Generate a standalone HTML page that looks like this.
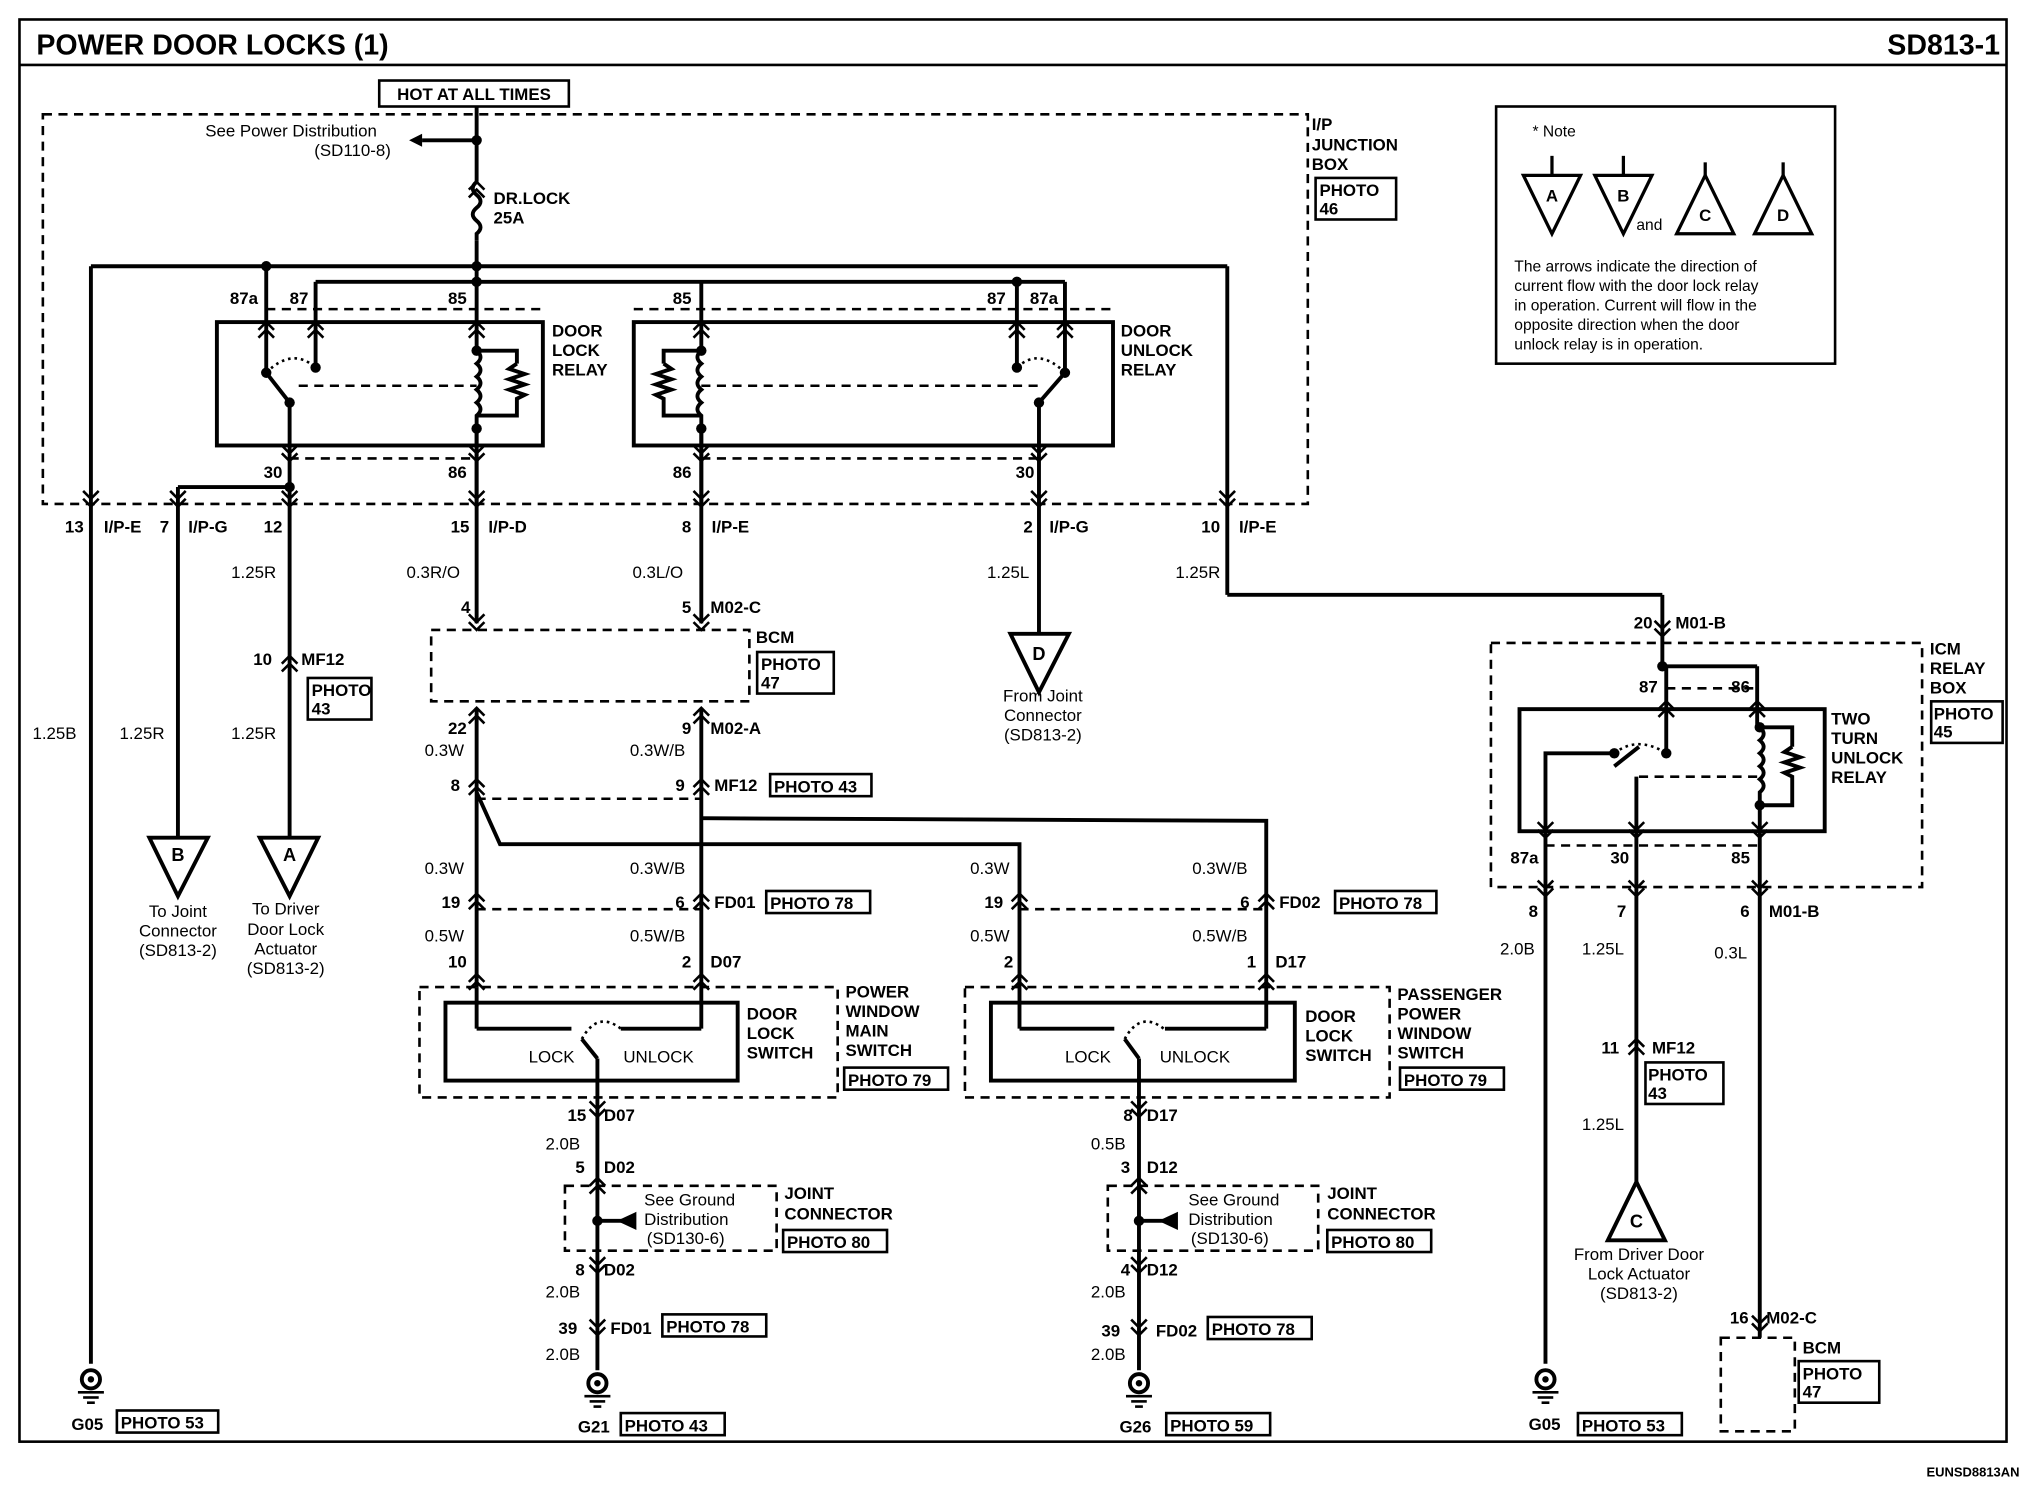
<!DOCTYPE html>
<html><head><style>
html,body{margin:0;padding:0;background:#fff;}
svg{display:block}
text{font-family:"Liberation Sans",Arial,sans-serif;font-weight:bold;fill:#000;}
</style></head><body>
<svg width="2026" height="1504" viewBox="0 0 1560 1158" preserveAspectRatio="none" xmlns="http://www.w3.org/2000/svg">
<defs>
<g id="cu"><polyline points="-6,6 0,0 6,6" fill="none" stroke="#000" stroke-width="2"/><polyline points="-6,12 0,6 6,12" fill="none" stroke="#000" stroke-width="2"/></g>
<g id="cd"><polyline points="-6,-6 0,0 6,-6" fill="none" stroke="#000" stroke-width="2"/><polyline points="-6,-12 0,-6 6,-12" fill="none" stroke="#000" stroke-width="2"/></g>
<g id="gnd"><circle cx="0" cy="0" r="7" fill="none" stroke="#000" stroke-width="3"/><circle cx="0" cy="0" r="2.5" fill="#000"/><line x1="-10" y1="10" x2="10" y2="10" stroke="#000" stroke-width="2"/><line x1="-6" y1="14" x2="6" y2="14" stroke="#000" stroke-width="2"/><line x1="-3" y1="18" x2="3" y2="18" stroke="#000" stroke-width="2"/></g>
</defs>
<rect width="1560" height="1158" fill="#fff"/>
<g fill="none" stroke="#000" stroke-width="2">
<rect x="15" y="15" width="1530" height="1095"/>
<line x1="15" y1="50" x2="1545" y2="50"/>
</g>
<text x="28" y="42" font-size="22">POWER DOOR LOCKS (1)</text>
<text x="1540" y="42" font-size="22" text-anchor="end">SD813-1</text>
<text x="1555" y="1137" font-size="10" text-anchor="end">EUNSD8813AN</text>

<g fill="none" stroke="#000" stroke-width="2" stroke-dasharray="7,5">
<rect x="33" y="88" width="974" height="300"/>
<rect x="332" y="485" width="245" height="55"/>
<rect x="323" y="760" width="322" height="85"/>
<rect x="743" y="760" width="327" height="85"/>
<rect x="435" y="913" width="163" height="50"/>
<rect x="853" y="913" width="162" height="50"/>
<rect x="1148" y="495" width="332" height="188"/>
<rect x="1325" y="1030" width="57" height="72"/>
<line x1="205" y1="238" x2="418" y2="238"/><line x1="488" y1="238" x2="857" y2="238"/>
<line x1="223" y1="353" x2="367" y2="353"/><line x1="540" y1="353" x2="800" y2="353"/>
<line x1="367" y1="615" x2="540" y2="615"/>
<line x1="367" y1="700" x2="540" y2="700"/><line x1="785" y1="700" x2="975" y2="700"/>
<line x1="1190" y1="651" x2="1355" y2="651"/>
<line x1="1283" y1="530" x2="1353" y2="530"/>
<line x1="230" y1="297" x2="367" y2="297"/><line x1="540" y1="297" x2="800" y2="297"/>
<line x1="1262" y1="598" x2="1355" y2="598"/>
</g>

<rect x="292" y="62" width="146" height="20" fill="none" stroke="#000" stroke-width="2"/>
<text x="365" y="77" font-size="13" text-anchor="middle">HOT AT ALL TIMES</text>

<g fill="none" stroke="#000" stroke-width="3">
<line x1="367" y1="82" x2="367" y2="140"/>
<path d="M367,140 q-6,5 0,10 q6,5 0,10 q-6,5 0,10 q6,5 0,10 l0,5"/>
<line x1="367" y1="185" x2="367" y2="248"/>
<line x1="367" y1="108" x2="325" y2="108"/>
<line x1="70" y1="205" x2="945" y2="205"/>
<line x1="243" y1="217" x2="820" y2="217"/>
<line x1="70" y1="205" x2="70" y2="1050"/>
<line x1="205" y1="205" x2="205" y2="248"/>
<line x1="243" y1="217" x2="243" y2="248"/>
<line x1="540" y1="217" x2="540" y2="248"/>
<line x1="783" y1="217" x2="783" y2="248"/>
<line x1="820" y1="217" x2="820" y2="248"/>
<line x1="945" y1="205" x2="945" y2="458"/>
<line x1="945" y1="458" x2="1280" y2="458"/>
<line x1="1280" y1="458" x2="1280" y2="513"/>
<rect x="167" y="248" width="251" height="95"/>
<rect x="488" y="248" width="369" height="95"/>
<rect x="1170" y="546" width="235" height="94"/>
<rect x="343" y="772" width="225" height="60"/>
<rect x="763" y="772" width="234" height="60"/>
<line x1="205" y1="248" x2="205" y2="287"/><line x1="243" y1="248" x2="243" y2="283"/>
<line x1="205" y1="287" x2="223" y2="310"/><line x1="223" y1="310" x2="223" y2="390"/>
<line x1="367" y1="248" x2="367" y2="270"/>
<path d="M367,270 q6,5 0,10 q6,5 0,10 q6,5 0,10 q6,5 0,10 q6,5 0,10 l0,10 l0,60"/>
<polyline points="367,270 398,270 398,280" /><path d="M398,280 l-6,4 l12,4 l-12,4 l12,4 l-12,4 l12,4 l-6,3 l0,13 l-31,0"/>
<line x1="540" y1="248" x2="540" y2="270"/>
<path d="M540,270 q-6,5 0,10 q-6,5 0,10 q-6,5 0,10 q-6,5 0,10 q-6,5 0,10 l0,10 l0,60"/>
<polyline points="540,270 511,270 511,280"/><path d="M511,280 l6,4 l-12,4 l12,4 l-12,4 l12,4 l-12,4 l6,3 l0,13 l29,0"/>
<line x1="820" y1="248" x2="820" y2="287"/><line x1="783" y1="248" x2="783" y2="283"/>
<line x1="820" y1="287" x2="800" y2="310"/><line x1="800" y1="310" x2="800" y2="488"/>
<line x1="367" y1="330" x2="367" y2="480"/>
<line x1="540" y1="330" x2="540" y2="480"/>
<line x1="223" y1="375" x2="137" y2="375"/><line x1="137" y1="375" x2="137" y2="645"/>
<line x1="223" y1="390" x2="223" y2="645"/>
<line x1="367" y1="545" x2="367" y2="760"/>
<line x1="540" y1="545" x2="540" y2="760"/>
<polyline points="367,610 385,650 785,650 785,760"/>
<polyline points="540,630 975,632 975,760"/>
<line x1="367" y1="760" x2="367" y2="792"/><line x1="367" y1="792" x2="440" y2="792"/>
<line x1="540" y1="760" x2="540" y2="792"/><line x1="540" y1="792" x2="478" y2="792"/>
<line x1="785" y1="760" x2="785" y2="792"/><line x1="785" y1="792" x2="858" y2="792"/>
<line x1="975" y1="760" x2="975" y2="792"/><line x1="975" y1="792" x2="897" y2="792"/>
<line x1="448" y1="800" x2="460" y2="815"/><line x1="460" y1="815" x2="460" y2="1055"/>
<line x1="866" y1="800" x2="877" y2="815"/><line x1="877" y1="815" x2="877" y2="1055"/>
<line x1="460" y1="940" x2="480" y2="940"/><line x1="877" y1="940" x2="897" y2="940"/>
<line x1="1283" y1="513" x2="1353" y2="513"/>
<line x1="1283" y1="513" x2="1283" y2="580"/>
<line x1="1353" y1="513" x2="1353" y2="560"/>
<path d="M1355,560 q6,5 0,10 q6,5 0,10 q6,5 0,10 q6,5 0,10 q6,5 0,10 l0,10 l0,410"/>
<polyline points="1355,560 1380,560 1380,575"/><path d="M1380,575 l-6,4 l12,4 l-12,4 l12,4 l-12,4 l6,3 l0,22 l-25,0"/>
<line x1="1262" y1="575" x2="1243" y2="590"/>
<polyline points="1243,580 1190,580 1190,1050"/>
<line x1="1260" y1="598" x2="1260" y2="910"/>
</g>
<g fill="none" stroke="#000" stroke-width="2" stroke-dasharray="2,3">
<path d="M205,287 q20,-20 38,-4"/><path d="M820,287 q-20,-20 -37,-4"/>
<path d="M448,800 q12,-22 30,-8"/><path d="M866,800 q12,-22 30,-8"/>
<path d="M1243,580 q18,-14 40,0"/>
</g>
<g fill="#000">
<circle cx="367" cy="108" r="4"/><circle cx="205" cy="205" r="4"/><circle cx="367" cy="205" r="4"/><circle cx="367" cy="217" r="4"/><circle cx="783" cy="217" r="4"/>
<circle cx="205" cy="287" r="4"/><circle cx="243" cy="283" r="4"/><circle cx="223" cy="310" r="4"/><circle cx="367" cy="270" r="4"/><circle cx="367" cy="330" r="4"/>
<circle cx="540" cy="270" r="4"/><circle cx="540" cy="330" r="4"/><circle cx="820" cy="287" r="4"/><circle cx="783" cy="283" r="4"/><circle cx="800" cy="310" r="4"/>
<circle cx="223" cy="375" r="4"/><circle cx="460" cy="940" r="4"/><circle cx="877" cy="940" r="4"/><circle cx="1280" cy="513" r="4"/><circle cx="1355" cy="560" r="4"/><circle cx="1355" cy="620" r="4"/><circle cx="1243" cy="580" r="4"/><circle cx="1283" cy="580" r="4"/>
<polygon points="325,103 315,108 325,113"/>
<polygon points="490,933 475,940 490,947"/><polygon points="907,933 892,940 907,947"/>
</g>
<use href="#cu" x="367" y="140"/>
<use href="#cu" x="205" y="248"/><use href="#cu" x="243" y="248"/><use href="#cu" x="367" y="248"/><use href="#cu" x="540" y="248"/><use href="#cu" x="783" y="248"/><use href="#cu" x="820" y="248"/>
<use href="#cd" x="223" y="355"/><use href="#cd" x="367" y="355"/><use href="#cd" x="540" y="355"/><use href="#cd" x="800" y="355"/>
<use href="#cd" x="70" y="390"/><use href="#cd" x="137" y="390"/><use href="#cd" x="223" y="390"/><use href="#cd" x="367" y="390"/><use href="#cd" x="540" y="390"/><use href="#cd" x="800" y="390"/><use href="#cd" x="945" y="390"/>
<use href="#cu" x="223" y="505"/><use href="#cd" x="367" y="485"/><use href="#cd" x="540" y="485"/>
<use href="#cu" x="367" y="545"/><use href="#cu" x="540" y="545"/><use href="#cu" x="367" y="600"/><use href="#cu" x="540" y="600"/>
<use href="#cu" x="367" y="688"/><use href="#cu" x="540" y="688"/><use href="#cu" x="785" y="688"/><use href="#cu" x="975" y="688"/>
<use href="#cu" x="367" y="750"/><use href="#cu" x="540" y="750"/><use href="#cu" x="785" y="750"/><use href="#cu" x="975" y="750"/>
<use href="#cd" x="460" y="860"/><use href="#cu" x="460" y="907"/><use href="#cd" x="460" y="980"/><use href="#cd" x="460" y="1028"/>
<use href="#cd" x="877" y="860"/><use href="#cu" x="877" y="907"/><use href="#cd" x="877" y="980"/><use href="#cd" x="877" y="1028"/>
<use href="#cd" x="1280" y="490"/><use href="#cu" x="1283" y="540"/><use href="#cu" x="1353" y="540"/>
<use href="#cd" x="1190" y="645"/><use href="#cd" x="1260" y="645"/><use href="#cd" x="1355" y="645"/>
<use href="#cd" x="1190" y="690"/><use href="#cd" x="1260" y="690"/><use href="#cd" x="1355" y="690"/><use href="#cu" x="1260" y="800"/><use href="#cd" x="1355" y="1025"/>
<use href="#gnd" x="70" y="1062"/><use href="#gnd" x="460" y="1065"/><use href="#gnd" x="877" y="1065"/><use href="#gnd" x="1190" y="1062"/>
<g fill="#fff" stroke="#000" stroke-width="3">
<polygon points="115,645 160,645 137,690"/><polygon points="200,645 245,645 223,690"/>
<polygon points="778,488 823,488 800,533"/>
<polygon points="1260,910 1282,955 1238,955"/>
</g>
<g font-size="14"><text x="137" y="663" text-anchor="middle">B</text><text x="223" y="663" text-anchor="middle">A</text><text x="800" y="508" text-anchor="middle">D</text><text x="1260" y="945" text-anchor="middle">C</text></g>

<rect x="1152" y="82" width="261" height="198" fill="none" stroke="#000" stroke-width="2"/>
<g fill="#fff" stroke="#000" stroke-width="2.5">
<line x1="1195" y1="120" x2="1195" y2="135"/><polygon points="1173,135 1217,135 1195,180"/>
<line x1="1250" y1="120" x2="1250" y2="135"/><polygon points="1228,135 1272,135 1250,180"/>
<line x1="1313" y1="125" x2="1313" y2="135"/><polygon points="1313,135 1335,180 1291,180"/>
<line x1="1373" y1="125" x2="1373" y2="135"/><polygon points="1373,135 1395,180 1351,180"/>
</g>
<g font-size="13"><text x="1195" y="155" text-anchor="middle">A</text><text x="1250" y="155" text-anchor="middle">B</text><text x="1313" y="170" text-anchor="middle">C</text><text x="1373" y="170" text-anchor="middle">D</text></g>
<g font-size="12">
<text x="1180" y="105" style="font-weight:normal">* Note</text>
<text x="1260" y="177" style="font-weight:normal">and</text>
<text x="1166" y="209" style="font-weight:normal">The arrows indicate the direction of</text>
<text x="1166" y="224" style="font-weight:normal">current flow with the door lock relay</text>
<text x="1166" y="239" style="font-weight:normal">in operation. Current will flow in the</text>
<text x="1166" y="254" style="font-weight:normal">opposite direction when the door</text>
<text x="1166" y="269" style="font-weight:normal">unlock relay is in operation.</text>
</g>

<g fill="none" stroke="#000" stroke-width="2">
<rect x="1013" y="137" width="62" height="32"/><rect x="237" y="522" width="49" height="32"/><rect x="583" y="502" width="59" height="32"/>
<rect x="593" y="596" width="78" height="17"/><rect x="590" y="686" width="80" height="17"/><rect x="1028" y="686" width="78" height="17"/>
<rect x="650" y="822" width="80" height="17"/><rect x="1078" y="822" width="80" height="17"/>
<rect x="603" y="947" width="80" height="17"/><rect x="1022" y="947" width="80" height="17"/>
<rect x="510" y="1012" width="80" height="17"/><rect x="930" y="1014" width="80" height="17"/>
<rect x="90" y="1086" width="78" height="17"/><rect x="478" y="1088" width="80" height="17"/><rect x="898" y="1088" width="80" height="17"/><rect x="1215" y="1088" width="80" height="17"/>
<rect x="1487" y="540" width="55" height="32"/><rect x="1267" y="818" width="60" height="32"/><rect x="1385" y="1048" width="62" height="32"/>
</g>
<g font-size="13">
<text x="1016" y="151">PHOTO</text><text x="1016" y="165">46</text>
<text x="240" y="536">PHOTO</text><text x="240" y="550">43</text>
<text x="586" y="516">PHOTO</text><text x="586" y="530">47</text>
<text x="596" y="610">PHOTO 43</text><text x="593" y="700">PHOTO 78</text><text x="1031" y="700">PHOTO 78</text>
<text x="653" y="836">PHOTO 79</text><text x="1081" y="836">PHOTO 79</text>
<text x="606" y="961">PHOTO 80</text><text x="1025" y="961">PHOTO 80</text>
<text x="513" y="1026">PHOTO 78</text><text x="933" y="1028">PHOTO 78</text>
<text x="93" y="1100">PHOTO 53</text><text x="481" y="1102">PHOTO 43</text><text x="901" y="1102">PHOTO 59</text><text x="1218" y="1102">PHOTO 53</text>
<text x="1489" y="554">PHOTO</text><text x="1489" y="568">45</text>
<text x="1269" y="832">PHOTO</text><text x="1269" y="846">43</text>
<text x="1388" y="1062">PHOTO</text><text x="1388" y="1076">47</text>
<text x="1010" y="100">I/P</text><text x="1010" y="116">JUNCTION</text><text x="1010" y="131">BOX</text>
<text x="425" y="259">DOOR</text><text x="425" y="274">LOCK</text><text x="425" y="289">RELAY</text>
<text x="863" y="259">DOOR</text><text x="863" y="274">UNLOCK</text><text x="863" y="289">RELAY</text>
<text x="380" y="157">DR.LOCK</text><text x="380" y="172">25A</text>
<text x="582" y="495">BCM</text>
<text x="1486" y="504">ICM</text><text x="1486" y="519">RELAY</text><text x="1486" y="534">BOX</text>
<text x="1410" y="558">TWO</text><text x="1410" y="573">TURN</text><text x="1410" y="588">UNLOCK</text><text x="1410" y="603">RELAY</text>
<text x="575" y="785">DOOR</text><text x="575" y="800">LOCK</text><text x="575" y="815">SWITCH</text>
<text x="651" y="768">POWER</text><text x="651" y="783">WINDOW</text><text x="651" y="798">MAIN</text><text x="651" y="813">SWITCH</text>
<text x="1005" y="787">DOOR</text><text x="1005" y="802">LOCK</text><text x="1005" y="817">SWITCH</text>
<text x="1076" y="770">PASSENGER</text><text x="1076" y="785">POWER</text><text x="1076" y="800">WINDOW</text><text x="1076" y="815">SWITCH</text>
<text x="604" y="923">JOINT</text><text x="604" y="939">CONNECTOR</text><text x="1022" y="923">JOINT</text><text x="1022" y="939">CONNECTOR</text>
<text x="1388" y="1042">BCM</text>
<text x="55" y="1101">G05</text><text x="445" y="1103">G21</text><text x="862" y="1103">G26</text><text x="1177" y="1101">G05</text>
<text x="177" y="234">87a</text><text x="223" y="234">87</text><text x="345" y="234">85</text>
<text x="518" y="234">85</text><text x="760" y="234">87</text><text x="793" y="234">87a</text>
<text x="203" y="368">30</text><text x="345" y="368">86</text><text x="518" y="368">86</text><text x="782" y="368">30</text>
<text x="50" y="410">13</text><text x="80" y="410">I/P-E</text><text x="123" y="410">7</text><text x="145" y="410">I/P-G</text><text x="203" y="410">12</text>
<text x="347" y="410">15</text><text x="376" y="410">I/P-D</text><text x="525" y="410">8</text><text x="548" y="410">I/P-E</text>
<text x="788" y="410">2</text><text x="808" y="410">I/P-G</text><text x="925" y="410">10</text><text x="954" y="410">I/P-E</text>
<text x="195" y="512">10</text><text x="232" y="512">MF12</text>
<text x="355" y="472">4</text><text x="525" y="472">5</text><text x="547" y="472">M02-C</text>
<text x="345" y="565">22</text><text x="525" y="565">9</text><text x="547" y="565">M02-A</text>
<text x="347" y="609">8</text><text x="520" y="609">9</text><text x="550" y="609">MF12</text>
<text x="340" y="699">19</text><text x="520" y="699">6</text><text x="550" y="699">FD01</text>
<text x="758" y="699">19</text><text x="955" y="699">6</text><text x="985" y="699">FD02</text>
<text x="345" y="745">10</text><text x="525" y="745">2</text><text x="547" y="745">D07</text>
<text x="773" y="745">2</text><text x="960" y="745">1</text><text x="982" y="745">D17</text>
<text x="437" y="863">15</text><text x="465" y="863">D07</text><text x="443" y="903">5</text><text x="465" y="903">D02</text>
<text x="443" y="982">8</text><text x="465" y="982">D02</text><text x="430" y="1027">39</text><text x="470" y="1027">FD01</text>
<text x="865" y="863">8</text><text x="883" y="863">D17</text><text x="863" y="903">3</text><text x="883" y="903">D12</text>
<text x="863" y="982">4</text><text x="883" y="982">D12</text><text x="848" y="1029">39</text><text x="890" y="1029">FD02</text>
<text x="1258" y="484">20</text><text x="1290" y="484">M01-B</text>
<text x="1262" y="533">87</text><text x="1333" y="533">86</text>
<text x="1163" y="665">87a</text><text x="1240" y="665">30</text><text x="1333" y="665">85</text>
<text x="1177" y="706">8</text><text x="1245" y="706">7</text><text x="1340" y="706">6</text><text x="1362" y="706">M01-B</text>
<text x="1233" y="811">11</text><text x="1272" y="811">MF12</text>
<text x="1332" y="1019">16</text><text x="1360" y="1019">M02-C</text>
</g>
<g font-size="13">
<text x="158" y="105" style="font-weight:normal">See Power Distribution</text><text x="242" y="120" style="font-weight:normal">(SD110-8)</text>
<text x="178" y="445" style="font-weight:normal">1.25R</text><text x="313" y="445" style="font-weight:normal">0.3R/O</text><text x="487" y="445" style="font-weight:normal">0.3L/O</text><text x="760" y="445" style="font-weight:normal">1.25L</text><text x="905" y="445" style="font-weight:normal">1.25R</text>
<text x="25" y="569" style="font-weight:normal">1.25B</text><text x="92" y="569" style="font-weight:normal">1.25R</text><text x="178" y="569" style="font-weight:normal">1.25R</text>
<text x="327" y="582" style="font-weight:normal">0.3W</text><text x="485" y="582" style="font-weight:normal">0.3W/B</text>
<text x="327" y="673" style="font-weight:normal">0.3W</text><text x="485" y="673" style="font-weight:normal">0.3W/B</text><text x="747" y="673" style="font-weight:normal">0.3W</text><text x="918" y="673" style="font-weight:normal">0.3W/B</text>
<text x="327" y="725" style="font-weight:normal">0.5W</text><text x="485" y="725" style="font-weight:normal">0.5W/B</text><text x="747" y="725" style="font-weight:normal">0.5W</text><text x="918" y="725" style="font-weight:normal">0.5W/B</text>
<text x="407" y="818" style="font-weight:normal">LOCK</text><text x="480" y="818" style="font-weight:normal">UNLOCK</text>
<text x="820" y="818" style="font-weight:normal">LOCK</text><text x="893" y="818" style="font-weight:normal">UNLOCK</text>
<text x="420" y="885" style="font-weight:normal">2.0B</text><text x="840" y="885" style="font-weight:normal">0.5B</text>
<text x="420" y="999" style="font-weight:normal">2.0B</text><text x="840" y="999" style="font-weight:normal">2.0B</text>
<text x="420" y="1047" style="font-weight:normal">2.0B</text><text x="840" y="1047" style="font-weight:normal">2.0B</text>
<text x="496" y="928" style="font-weight:normal">See Ground</text><text x="496" y="943" style="font-weight:normal">Distribution</text><text x="498" y="958" style="font-weight:normal">(SD130-6)</text>
<text x="915" y="928" style="font-weight:normal">See Ground</text><text x="915" y="943" style="font-weight:normal">Distribution</text><text x="917" y="958" style="font-weight:normal">(SD130-6)</text>
<text x="137" y="706" text-anchor="middle" style="font-weight:normal">To Joint</text><text x="137" y="721" text-anchor="middle" style="font-weight:normal">Connector</text><text x="137" y="736" text-anchor="middle" style="font-weight:normal">(SD813-2)</text>
<text x="220" y="704" text-anchor="middle" style="font-weight:normal">To Driver</text><text x="220" y="720" text-anchor="middle" style="font-weight:normal">Door Lock</text><text x="220" y="735" text-anchor="middle" style="font-weight:normal">Actuator</text><text x="220" y="750" text-anchor="middle" style="font-weight:normal">(SD813-2)</text>
<text x="803" y="540" text-anchor="middle" style="font-weight:normal">From Joint</text><text x="803" y="555" text-anchor="middle" style="font-weight:normal">Connector</text><text x="803" y="570" text-anchor="middle" style="font-weight:normal">(SD813-2)</text>
<text x="1262" y="970" text-anchor="middle" style="font-weight:normal">From Driver Door</text><text x="1262" y="985" text-anchor="middle" style="font-weight:normal">Lock Actuator</text><text x="1262" y="1000" text-anchor="middle" style="font-weight:normal">(SD813-2)</text>
<text x="1155" y="735" style="font-weight:normal">2.0B</text><text x="1218" y="735" style="font-weight:normal">1.25L</text><text x="1320" y="738" style="font-weight:normal">0.3L</text>
<text x="1218" y="870" style="font-weight:normal">1.25L</text>
</g>
</svg>
</body></html>
